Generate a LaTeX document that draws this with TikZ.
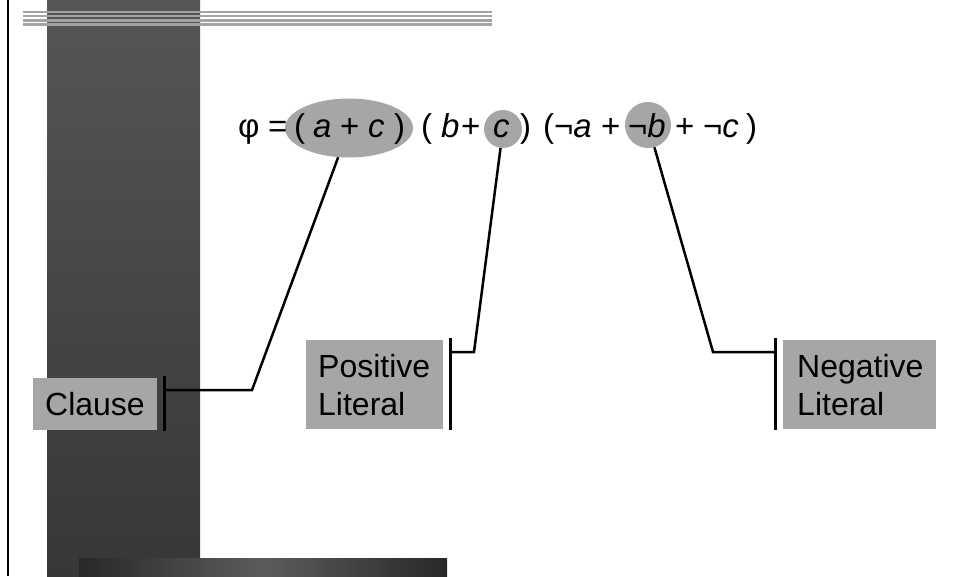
\documentclass[tikz,border=0pt]{standalone}
\usepackage{fontspec}
\setmainfont{Liberation Sans}
\usetikzlibrary{shapes.geometric}
\definecolor{hl}{HTML}{A6A6A6}
\definecolor{stripe}{HTML}{A4A4A4}
\definecolor{coltop}{HTML}{565656}
\definecolor{colbot}{HTML}{373737}
\definecolor{bardark}{HTML}{282828}
\definecolor{barlight}{HTML}{5C5C5C}
\tikzset{
  bigfont/.style={font=\fontsize{32}{38}\selectfont},
  formfont/.style={font=\fontsize{33}{38}\selectfont},
  tok/.style={formfont, anchor=base west, inner sep=0pt},
  hlshape/.style={fill=hl, draw=none, inner sep=0pt},
  lbox/.style={fill=hl, draw=none, bigfont, align=left, inner xsep=0pt, inner ysep=0pt, anchor=north west},
  conn/.style={draw=black, line width=2.5pt},
  tbar/.style={draw=black, line width=3pt}
}
\begin{document}
\begin{tikzpicture}[x=1pt,y=-1pt]
\useasboundingbox (0,0) rectangle (956,576);
\fill[white] (0,0) rectangle (956,576);
% left rule
\draw[line width=2.2pt] (8.3,0) -- (8.3,576);
% dark column
\shade[top color=coltop, bottom color=colbot] (47,0) rectangle (200,576);
% bottom bar
\shade[left color=bardark, right color=bardark, middle color=barlight] (79,558) rectangle (447,576);
% stripes
\foreach \yy in {12.2,16.2,20.3,24.5}
  \fill[stripe] (23,\yy-1.25) rectangle (492,\yy+1.25);
% highlight shapes
\node[hlshape, ellipse, minimum width=128pt, minimum height=59pt] (clauseE) at (349,128) {};
\node[hlshape, circle, minimum size=38pt] (posC) at (503,129) {};
\node[hlshape, circle, minimum size=46pt] (negC) at (648,125) {};
% formula tokens
\foreach \xx/\tt [count=\i] in {238/φ, 268/=, 294/(, 313/\textit{a}, 340/+, 368/\textit{c}, 394/),
   421/(, 441/\textit{b}, 461/+, 493/\textit{c}, 520/),
   543/(¬\textit{a}, 601/+, 628/¬\textit{b}, 675/+, 703/¬\textit{c}, 746/)}
  \node[tok] (tok\i) at (\xx,137) {\tt};
% label boxes
\node[lbox, minimum width=124pt, minimum height=52pt, text width=100pt] (clauseB) at (33,378) {Clause};
\node[lbox, minimum width=137pt, minimum height=89pt, text width=113pt] (posB) at (306,340) {Positive\\Literal};
\node[lbox, minimum width=153pt, minimum height=89pt, text width=125pt] (negB) at (783,340) {Negative\\Literal};
% bars
\coordinate (cbT) at (164,376); \coordinate (cbB) at (164,431); \coordinate (cbM) at (164,390);
\coordinate (pbT) at (450,338); \coordinate (pbB) at (450,430); \coordinate (pbM) at (450,352);
\coordinate (nbT) at (775,338); \coordinate (nbB) at (775,430); \coordinate (nbM) at (775,352);
\draw[tbar] (cbT) -- (cbB);
\draw[tbar] (pbT) -- (pbB);
\draw[tbar] (nbT) -- (nbB);
% bends
\coordinate (cK) at (252,390);
\coordinate (pK) at (474,352);
\coordinate (nK) at (713,352);
\draw[conn] (clauseE) -- (cK) -- (cbM);
\draw[conn] (posC) -- (pK) -- (pbM);
\draw[conn] (negC) -- (nK) -- (nbM);
\end{tikzpicture}
\end{document}
